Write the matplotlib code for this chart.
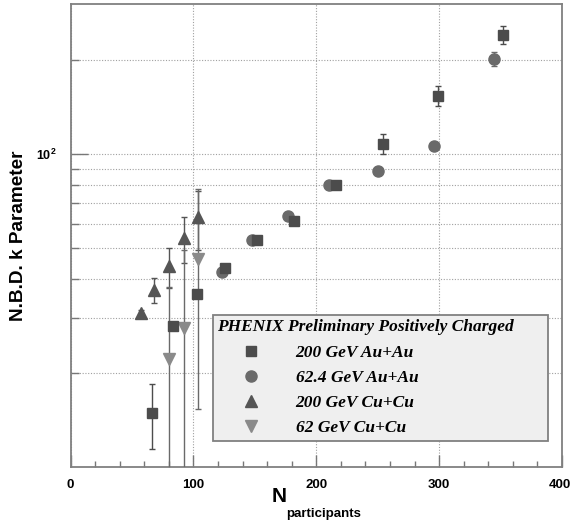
import matplotlib
matplotlib.use('Agg')
import matplotlib.pyplot as plt
import matplotlib.transforms as mtransforms
from matplotlib.ticker import FixedLocator, NullFormatter, FixedFormatter

# 200 GeV Au+Au
auau200_npart = [66.1, 83.2, 102.8, 125.8, 151.5, 182.0, 216.0, 254.0, 299.0, 351.6]
auau200_k = [14.9, 28.3, 35.9, 43.3, 53.4, 61.4, 80.0, 108.2, 153.8, 240.5]
auau200_err = [3.5, 0.8, 0.8, 1.0, 1.0, 1.2, 1.5, 7.8, 11.0, 16.0]

# 62.4 GeV Au+Au
auau62_npart = [123.4, 147.5, 177.4, 210.0, 250.2, 296.0, 344.9]
auau62_k = [42.0, 53.4, 63.7, 80.0, 88.4, 106.3, 201.6]
auau62_err = [0.8, 0.8, 1.0, 1.2, 1.5, 2.0, 10.8]

# 200 GeV Cu+Cu
cucu200_npart = [57.4, 68.3, 80.0, 92.4, 104.1]
cucu200_k = [31.0, 36.8, 43.8, 53.9, 63.0]
cucu200_err = [0.8, 3.3, 6.5, 9.0, 13.5]

# 62 GeV Cu+Cu
cucu62_npart = [80.0, 92.4, 104.1]
cucu62_k = [22.1, 27.9, 46.3]
cucu62_err = [15.5, 21.7, 31.0]

labels = ['200 GeV Au+Au', '62.4 GeV Au+Au', '200 GeV Cu+Cu', '62 GeV Cu+Cu']

plt.rcParams['mathtext.fontset'] = 'custom'
plt.rcParams['mathtext.bf'] = 'Liberation Sans:bold'
plt.rcParams['mathtext.rm'] = 'Liberation Sans:bold'

W, H = 571, 524
fig = plt.figure(figsize=(W / 100, H / 100), dpi=100)
ax = fig.add_axes([0.1235, 0.1088, 0.8607, 0.8836])

# Plot each series (circles below squares where they overlap)
eb_sq = ax.errorbar(auau200_npart, auau200_k, yerr=auau200_err, fmt='s', ms=7.5, color='#4c4c4c',
                    ecolor='#4c4c4c', elinewidth=1, capsize=2.5, zorder=4)
eb_ci = ax.errorbar(auau62_npart, auau62_k, yerr=auau62_err, fmt='o', ms=8, color='#6a6a6a',
                    ecolor='#6a6a6a', elinewidth=1, capsize=2.5, zorder=3)
eb_up = ax.errorbar(cucu200_npart, cucu200_k, yerr=cucu200_err, fmt='^', ms=8, color='#555555',
                    ecolor='#555555', elinewidth=1, capsize=2.5, zorder=3)
eb_dn = ax.errorbar(cucu62_npart, cucu62_k, yerr=cucu62_err, fmt='v', ms=8, color='#8a8a8a',
                    ecolor='#6a6a6a', elinewidth=1, capsize=2.5, zorder=3)

ax.set_yscale('log')
ax.set_xlim(0, 400)
ax.set_ylim(10.02, 302)

# Axis ticks
ax.xaxis.set_major_locator(FixedLocator([0, 100, 200, 300, 400]))
ax.xaxis.set_minor_locator(FixedLocator([v for v in range(20, 400, 20) if v % 100 != 0]))
ax.yaxis.set_major_locator(FixedLocator([100]))
ax.yaxis.set_major_formatter(FixedFormatter([r'$\mathbf{10^{2}}$']))
ax.yaxis.set_minor_locator(FixedLocator([20, 30, 40, 50, 60, 70, 80, 90, 200]))
ax.yaxis.set_minor_formatter(NullFormatter())

ax.tick_params(axis='both', which='both', direction='in', color='#777777', width=1,
               top=False, right=False)
ax.tick_params(axis='x', which='major', length=9, pad=9)
ax.tick_params(axis='x', which='minor', length=4.5)
ax.tick_params(axis='y', which='major', length=12, pad=10, labelsize=9)
ax.tick_params(axis='y', which='minor', length=6)
xlabels = ax.get_xticklabels()
for lbl in xlabels:
    lbl.set_fontfamily('Liberation Sans')
    lbl.set_fontweight('bold')
    lbl.set_fontsize(9.5)
# keep the last label inside the canvas
xlabels[-1].set_transform(xlabels[-1].get_transform() +
                          mtransforms.ScaledTranslation(-2 / 100, 0, fig.dpi_scale_trans))

# Dotted grid
ax.grid(True, which='major', axis='both', linestyle=(0, (1, 1.5)), color='#a0a0a0', linewidth=0.8)
ax.grid(True, which='minor', axis='y', linestyle=(0, (1, 1.5)), color='#a0a0a0', linewidth=0.8)
ax.set_axisbelow(True)

for sp in ax.spines.values():
    sp.set_color('#808080')
    sp.set_linewidth(1.3)

ax.set_ylabel('N.B.D. k Parameter', fontfamily='Liberation Sans', fontweight='bold', fontsize=13.7)
ax.yaxis.set_label_coords(-0.088, 0.5)

# x label: N with a smaller "participants" subscript
fig.text(272 / W, 1 - 502 / H, 'N', fontfamily='Liberation Sans', fontweight='bold',
         fontsize=15, ha='left', va='baseline')
fig.text(286 / W, 1 - 517 / H, 'participants', fontfamily='Liberation Sans', fontweight='bold',
         fontsize=9.5, ha='left', va='baseline')

# Legend (markers only)
handles = [eb_sq[0], eb_ci[0], eb_up[0], eb_dn[0]]
leg = ax.legend(handles, labels, title='PHENIX Preliminary Positively Charged',
                loc='upper left', bbox_to_anchor=(0.29, 0.065, 0.682, 0.263), mode='expand',
                borderaxespad=0, fancybox=False, framealpha=1, facecolor='#efefef',
                edgecolor='#808080', handlelength=3.9, handletextpad=0.6, labelspacing=0.52,
                prop={'family': 'Liberation Serif', 'weight': 'bold', 'style': 'italic', 'size': 12.5},
                title_fontproperties={'family': 'Liberation Serif', 'weight': 'bold',
                                      'style': 'italic', 'size': 12.5},
                alignment='left', borderpad=0.25)
leg.get_frame().set_linewidth(1.3)
leg.set_zorder(5)

fig.savefig('out.png', dpi=100)
